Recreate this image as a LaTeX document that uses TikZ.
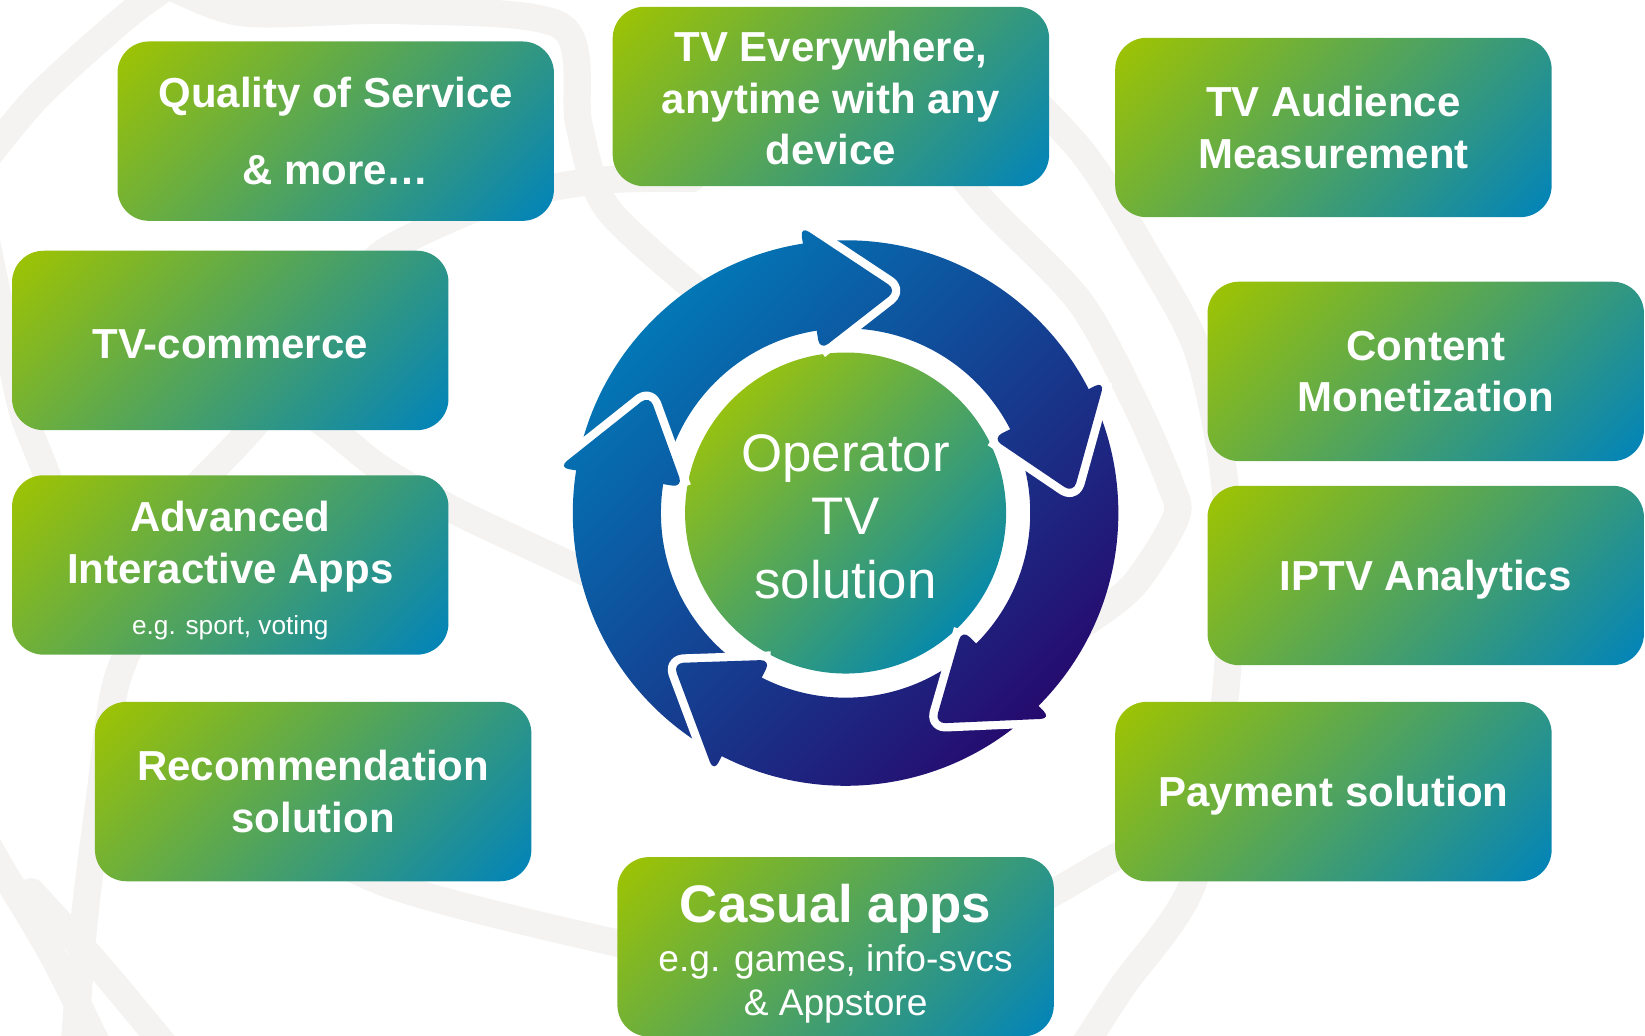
\documentclass[tikz,border=0pt]{standalone}
\usepackage{fontspec}
\setmainfont{Liberation Sans}
\usetikzlibrary{calc}
\definecolor{tilelime}{RGB}{160, 196, 0}
\definecolor{tileblue}{RGB}{0, 131, 188}
\definecolor{ringblue}{RGB}{2, 121, 183}
\definecolor{ringviolet}{RGB}{38, 10, 110}
\definecolor{hublime}{RGB}{150, 193, 18}
\definecolor{hubteal}{RGB}{8, 137, 170}
\definecolor{swooshgray}{RGB}{244, 243, 241}
\pgfdeclareverticalshading{tilefade}{100bp}{color(0bp)=(tileblue); color(14.6bp)=(tileblue); color(85.4bp)=(tilelime); color(100bp)=(tilelime)}
\newcommand\tilefont{\fontsize{20pt}{24.5pt}\selectfont\bfseries}
\newcommand\notefont{\fontsize{12.5pt}{15pt}\selectfont\mdseries}
\newcommand\hubfont{\fontsize{25.2pt}{30.25pt}\selectfont}

\begin{document}
\begin{tikzpicture}[
    x = 0.5pt, y = -0.5pt,
    tile/.style = {shade, shading = tilefade, shading angle = 45, rounded corners = 15pt,
        minimum width = 208pt, minimum height = 85.5pt, text = white, align = center, font = \tilefont},
    hub/.style = {circle, shade, top color = hublime, bottom color = hubteal, shading angle = 45,
        minimum size = 153pt, inner sep = 0pt, text = white, align = center, font = \hubfont},
    swoosh/.style = {draw = swooshgray, line width = 13pt, line cap = round},
    ringfill/.style = {path picture = {\shade[top color = ringblue, bottom color = ringviolet, shading angle = 45] (536,219) rectangle (1076,759);}}
]
\useasboundingbox (0,0) rectangle (1568,987);

% faint background swirls
\begin{scope}
\clip (0,0) rectangle (1568,987);
\draw[swoosh] plot[smooth] coordinates {(-20,160) (36,92) (120,16) (170,-20)};
\draw[swoosh] plot[smooth] coordinates {(150,-20) (230,12) (380,10) (535,25) (552,120) (580,200) (680,290)};
\draw[swoosh] plot[smooth] coordinates {(-15,220) (8,331) (22,394) (44,451) (75,540)};
\draw[swoosh] plot[smooth] coordinates {(150,500) (241,407) (330,290) (365,241) (474,191) (572,172) (660,170)};
\draw[swoosh] plot[smooth] coordinates {(250,360) (317,410) (365,448) (438,489) (572,553) (640,600)};
\draw[swoosh] plot[smooth] coordinates {(150,560) (111,650) (95,760) (80,880) (70,1010)};
\draw[swoosh] plot[smooth] coordinates {(-20,790) (0,826) (50,910) (95,1000)};
\draw[swoosh] plot[smooth] coordinates {(30,850) (95,922) (160,1000)};
\draw[swoosh] plot[smooth] coordinates {(220,760) (368,842) (620,906) (760,930)};
\draw[swoosh] plot[smooth] coordinates {(930,40) (1030,143) (1090,238) (1140,330) (1165,441) (1173,560) (1166,680) (1137,842) (1070,940) (1031,1000)};
\draw[swoosh] plot[smooth] coordinates {(880,120) (939,194) (1028,286) (1080,380) (1115,460) (1121,493) (1082,556) (1040,590) (990,620)};
\draw[swoosh] plot[smooth] coordinates {(1120,790) (1063,817) (1004,851) (953,877) (900,900)};
\end{scope}

% tiles round the cycle
\node[tile] (qos) at (320,125) {Quality of Service\\[12pt]\& more…};
\node[tile] (tve) at (792,92) {\rule{0pt}{16pt}TV Everywhere,\\anytime with any\\device};
\node[tile] (tva) at (1271,121.5) {TV Audience\\Measurement};
\node[tile] (tvc) at (219.5,324.5) {\rule{0pt}{17pt}TV-commerce};
\node[tile] (cmon) at (1359,354) {Content\\Monetization};
\node[tile] (aia) at (219.5,538.5) {\rule{0pt}{20pt}Advanced\\Interactive Apps\\{\notefont e.g. sport, voting}};
\node[tile, text depth = 0pt] (iptv) at (1359,548.5) {IPTV Analytics};
\node[tile] (reco) at (298.5,754.5) {Recommendation\\solution};
\node[tile, text depth = 0pt] (pay) at (1271,754.5) {Payment solution};
\node[tile, font = \fontsize{17.7pt}{21pt}\selectfont] (casual) at (796.5,902.5)
    {{\fontsize{25.2pt}{26pt}\selectfont\bfseries\rule{0pt}{25pt}Casual apps}\\[2.5pt]e.g. games, info-svcs\\\& Appstore};

% cycle ring
\coordinate (c) at (806,489);
\path[ringfill] ($(c)+(0:260)$) arc[start angle = 0, end angle = 360, radius = 260]
    -- ($(c)+(0:176)$) arc[start angle = 360, end angle = 0, radius = 176] -- cycle;

\node[hub] (op) at (c) {\rule{0pt}{21pt}Operator\\TV\\solution};

% arrow heads
\foreach \k in {0,...,4} {
    \pgfmathsetmacro\back{-99+72*\k}
    \pgfmathsetmacro\tip{-77+72*\k}
    \draw[white, line width = 8pt, rounded corners = 5pt, line join = round]
        ($(c)+(\back:277)$) -- ($(c)+(\tip:218)$) -- ($(c)+(\back:157)$);
    \path[ringfill, rounded corners = 5pt]
        ($(c)+(\back:277)$) -- ($(c)+(\tip:218)$) -- ($(c)+(\back:157)$) -- cycle;
}

\end{tikzpicture}
\end{document}
